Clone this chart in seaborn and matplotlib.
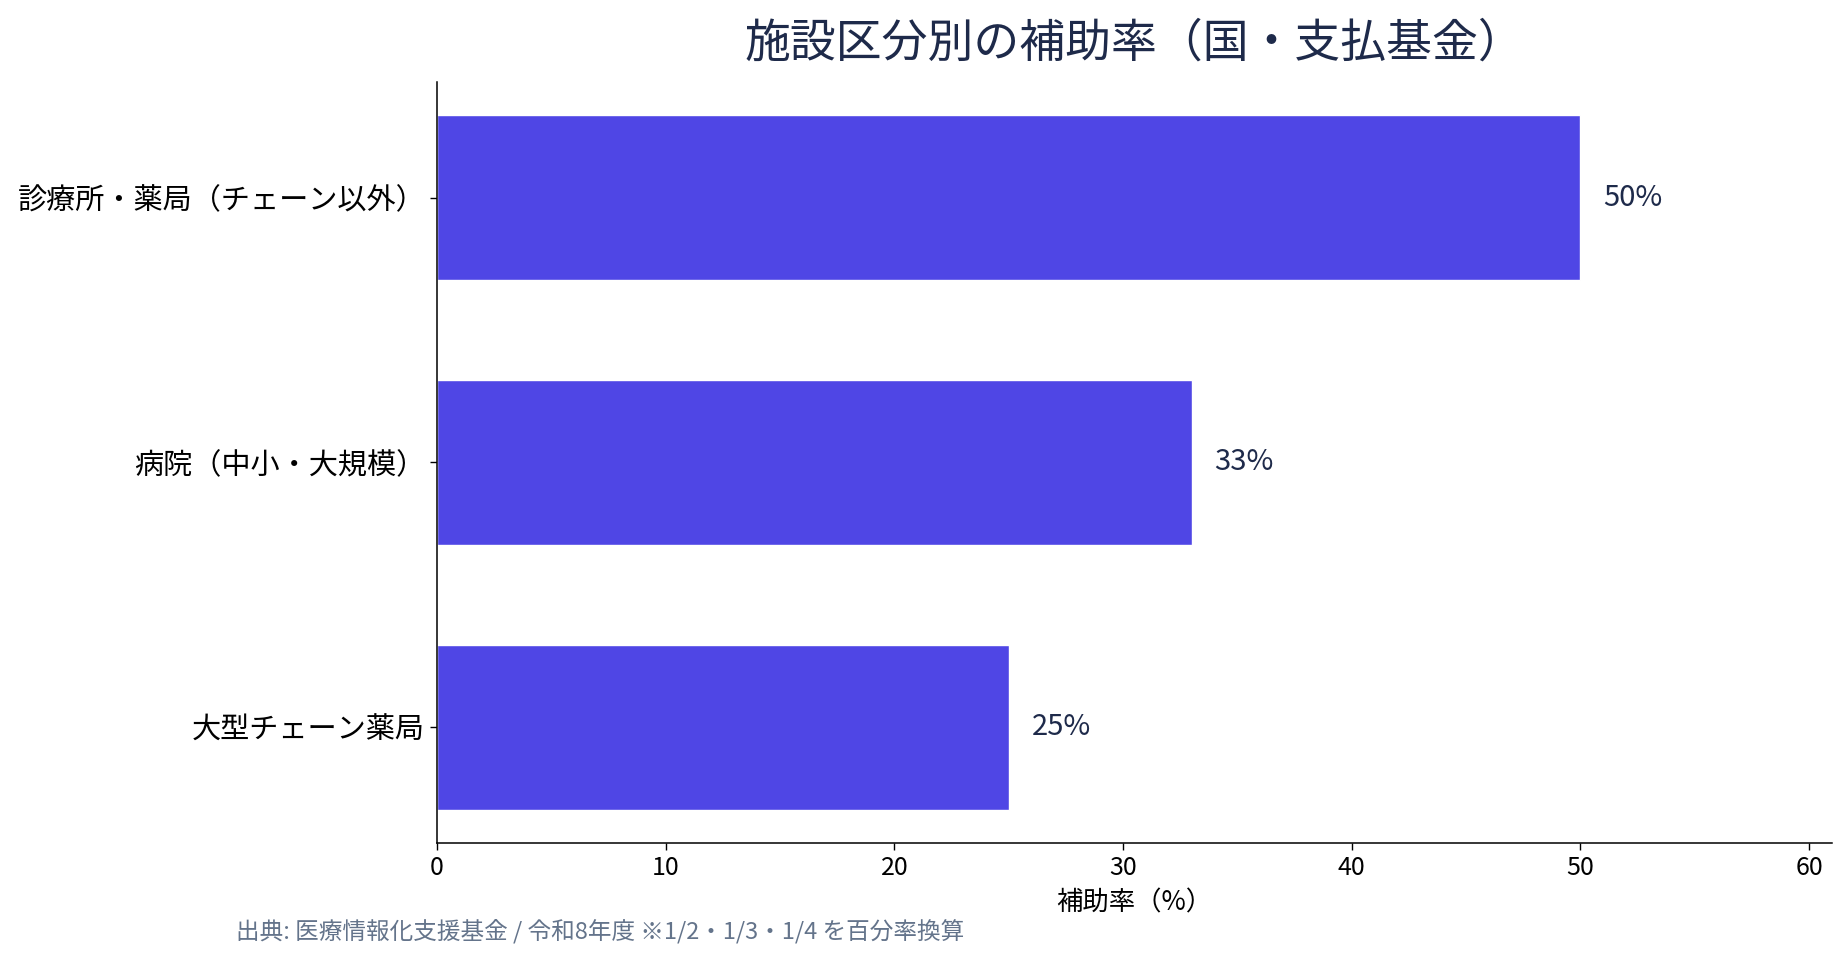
import pandas as pd
import matplotlib.pyplot as plt
import seaborn as sns

# data
categories = ["診療所・薬局（チェーン以外）", "病院（中小・大規模）", "大型チェーン薬局"]
rates = [50, 33, 25]
value_labels = ["50%", "33%", "25%"]

sns.set_theme(style="white")
plt.rcParams['font.family'] = ['Noto Sans CJK JP', 'DejaVu Sans']

df = pd.DataFrame({"施設区分": categories, "補助率": rates})

fig = plt.figure(figsize=(18.47, 9.59), dpi=100)
ax = fig.add_axes([437 / 1847, 1 - 843 / 959, (1832 - 437) / 1847, (843 - 82) / 959])

sns.barplot(data=df, x="補助率", y="施設区分", orient="h", color="#4F46E5",
            saturation=1, width=0.62, ax=ax)

for i, (v, lab) in enumerate(zip(rates, value_labels)):
    ax.text(v + 1.0, i, lab, va='center', ha='left', fontsize=21, color="#1E2A4A")

ax.set_xlim(0, 61)
ax.set_ylim(2.436, -0.436)
ax.set_xticks([0, 10, 20, 30, 40, 50, 60])
ax.set_xlabel("補助率（%）", fontsize=19, color="black", labelpad=6)
ax.set_ylabel("")
ax.tick_params(axis='x', labelsize=18, colors="black", length=5, width=1)
ax.tick_params(axis='y', labelsize=21, colors="black", length=5, width=1)
ax.tick_params(axis='both', bottom=True, left=True)

sns.despine(ax=ax)
for s in ["left", "bottom"]:
    ax.spines[s].set_color("black")
    ax.spines[s].set_linewidth(1.1)

ax.set_title("施設区分別の補助率（国・支払基金）", fontsize=33, color="#1E2A4A", pad=18)

fig.text(236 / 1847, 1 - 931 / 959, "出典: 医療情報化支援基金 / 令和8年度 ※1/2・1/3・1/4 を百分率換算",
         fontsize=17, color="#64748B", ha='left', va='center')

fig.savefig("out.png", dpi=100)
